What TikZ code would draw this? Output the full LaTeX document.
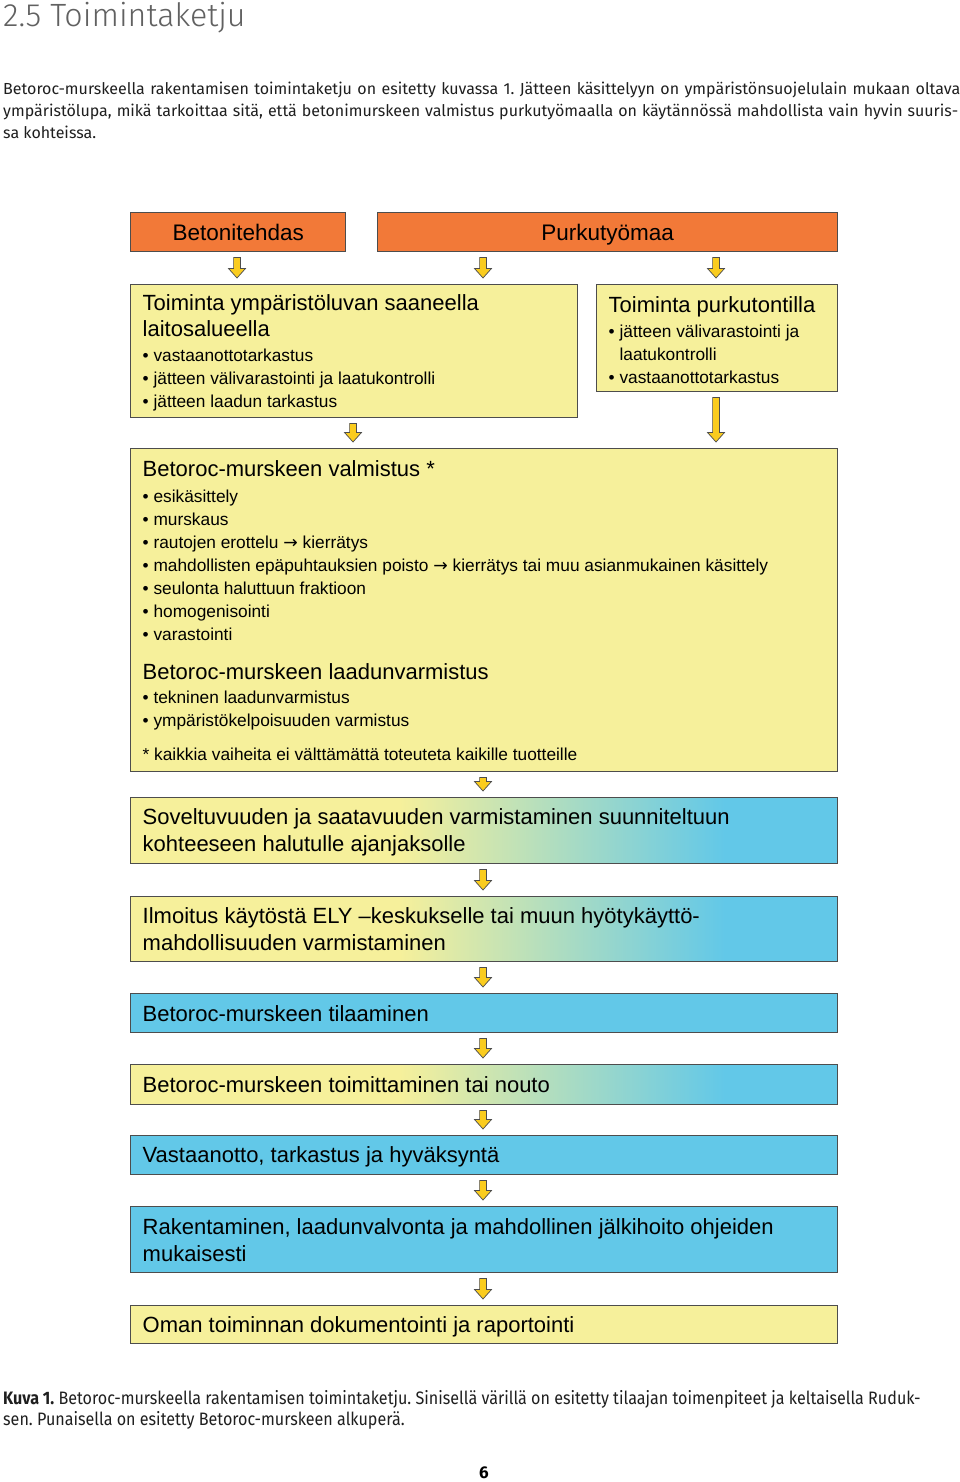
\documentclass[tikz,border=0pt]{standalone}
\usepackage{fontspec}
\usepackage{graphicx}
\setmainfont{Liberation Sans}
\newfontfamily\leipafont{Fira Sans}
\newfontfamily\otsikkofont{Fira Sans Light}
\newfontfamily\nuolifont{DejaVu Sans}
\usetikzlibrary{calc}
\frenchspacing

\definecolor{oranssi}{RGB}{242,121,56}
\definecolor{keltainen}{RGB}{246,240,155}
\definecolor{sininen}{RGB}{98,200,232}
\definecolor{nuoli}{RGB}{250,204,30}
\definecolor{reuna}{RGB}{77,77,77}
\pgfdeclarehorizontalshading{liuku}{100bp}{color(0bp)=(keltainen); color(44bp)=(keltainen); color(67bp)=(sininen); color(100bp)=(sininen)}

\tikzset{
    laatikko/.style={draw=reuna, line width=1.4pt, anchor=north west, inner xsep=12pt, inner ysep=0pt,
        minimum width=707pt, text width=683pt, align=flush left, font=\fontsize{22}{27}\selectfont},
    otsake/.style={laatikko, fill=oranssi, minimum height=39pt, align=center,
        font=\fontsize{22.5}{27}\selectfont, text height=20pt, text depth=3pt},
    luettelo/.style={laatikko, fill=keltainen, font=\fontsize{17.3}{23}\selectfont},
    rivi/.style={anchor=base west, inner sep=0pt, text=black!88},
}
\newcommand\kapea[1]{\scalebox{0.895}[1]{#1}}
\newcommand\nuolipala[3]{%
    \draw[fill=nuoli, draw=reuna, line width=0.7pt]
        let \p1=(#2.south), \p2=(#3.north), \p3=(#1,0) in
        (\x3-3.4pt,\y1-5pt) -- (\x3+3.4pt,\y1-5pt) -- (\x3+3.4pt,\y2+15.5pt) -- (\x3+8.5pt,\y2+15.5pt)
        -- (\x3,\y2+6pt) -- (\x3-8.5pt,\y2+15.5pt) -- (\x3-3.4pt,\y2+15.5pt) -- cycle;}

\begin{document}
\begin{tikzpicture}[x=1pt, y=-1pt]
    \useasboundingbox[fill=white] (0,0) rectangle (960,1482);

    \node[rivi, text=black!62, font=\otsikkofont\fontsize{32.2}{32}\selectfont] (otsikko) at (3,27) {2.5 Toimintaketju};
    \node[rivi, font=\leipafont\fontsize{16}{22}\selectfont] (teksti1) at (3,95) {\makebox[957pt][s]{Betoroc-murskeella rakentamisen toimintaketju on esitetty kuvassa 1. Jätteen käsittelyyn on ympäristönsuojelulain mukaan oltava}};
    \node[rivi, font=\leipafont\fontsize{16}{22}\selectfont] (teksti2) at (3,117) {\makebox[955pt][s]{ympäristölupa, mikä tarkoittaa sitä, että betonimurskeen valmistus purkutyömaalla on käytännössä mahdollista vain hyvin suuris-}};
    \node[rivi, font=\leipafont\fontsize{16}{22}\selectfont] (teksti3) at (3,139) {sa kohteissa.};

    \node[otsake, minimum width=215pt, text width=191pt] (betoni) at (130,212) {Betonitehdas};
    \node[otsake, minimum width=460pt, text width=436pt] (purku) at (377,212) {Purkutyömaa};

    \node[luettelo, minimum width=447pt, text width=423pt, minimum height=133pt] (laitos) at (130,284)
        {\fontsize{22}{23}\selectfont\rule{0pt}{20pt}Toiminta ympäristöluvan saaneella\\[3pt] laitosalueella\\[2pt]
        \fontsize{17.3}{23}\selectfont • vastaanottotarkastus\\ • jätteen välivarastointi ja laatukontrolli\\ • jätteen laadun tarkastus};
    \node[luettelo, minimum width=241pt, text width=217pt, minimum height=107pt] (tontti) at (596,284)
        {\fontsize{22}{23}\selectfont\rule{0pt}{19pt}Toiminta purkutontilla\\[2pt]
        \fontsize{17.3}{23}\selectfont • jätteen välivarastointi ja\\ \hphantom{• }laatukontrolli\\ • vastaanottotarkastus};

    \node[luettelo, minimum height=323pt] (valmistus) at (130,448)
        {\fontsize{22}{23}\selectfont Betoroc-murskeen valmistus *\\[3pt]
        \fontsize{17.3}{23}\selectfont • esikäsittely\\ • murskaus\\ • rautojen erottelu {\nuolifont→} kierrätys\\
        • mahdollisten epäpuhtauksien poisto {\nuolifont→} kierrätys tai muu asianmukainen käsittely\\
        • seulonta haluttuun fraktioon\\ • homogenisointi\\ • varastointi\\[16pt]
        \fontsize{22}{23}\selectfont Betoroc-murskeen laadunvarmistus\\[1pt]
        \fontsize{17.3}{23}\selectfont • tekninen laadunvarmistus\\ • ympäristökelpoisuuden varmistus\\[11pt]
        * kaikkia vaiheita ei välttämättä toteuteta kaikille tuotteille};

    \node[laatikko, shading=liuku, minimum height=66pt] (soveltuvuus) at (130,797) {\rule{0pt}{20pt}Soveltuvuuden ja saatavuuden varmistaminen suunniteltuun\\ kohteeseen halutulle ajanjaksolle};
    \node[laatikko, shading=liuku, minimum height=65pt] (ilmoitus) at (130,896) {Ilmoitus käytöstä ELY –keskukselle tai muun hyötykäyttö-\\ mahdollisuuden varmistaminen};
    \node[laatikko, fill=sininen, minimum height=39pt] (tilaus) at (130,993) {Betoroc-murskeen tilaaminen};
    \node[laatikko, shading=liuku, minimum height=40pt] (toimitus) at (130,1064) {Betoroc-murskeen toimittaminen tai nouto};
    \node[laatikko, fill=sininen, minimum height=39pt] (vastaanotto) at (130,1135) {\rule{0pt}{19pt}Vastaanotto, tarkastus ja hyväksyntä};
    \node[laatikko, fill=sininen, minimum height=66pt] (rakentaminen) at (130,1206) {Rakentaminen, laadunvalvonta ja mahdollinen jälkihoito ohjeiden\\ mukaisesti};
    \node[laatikko, fill=keltainen, minimum height=38pt] (raportointi) at (130,1305) {\rule{0pt}{21pt}Oman toiminnan dokumentointi ja raportointi};

    \nuolipala{237}{betoni}{laitos}
    \nuolipala{483}{purku}{laitos}
    \nuolipala{716}{purku}{tontti}
    \nuolipala{353}{laitos}{valmistus}
    \nuolipala{716}{tontti}{valmistus}
    \nuolipala{483}{valmistus}{soveltuvuus}
    \nuolipala{483}{soveltuvuus}{ilmoitus}
    \nuolipala{483}{ilmoitus}{tilaus}
    \nuolipala{483}{tilaus}{toimitus}
    \nuolipala{483}{toimitus}{vastaanotto}
    \nuolipala{483}{vastaanotto}{rakentaminen}
    \nuolipala{483}{rakentaminen}{raportointi}

    \node[rivi, font=\leipafont\fontsize{18}{21}\selectfont] (kuvateksti1) at (3,1404) {\kapea{\textbf{Kuva 1.} Betoroc-murskeella rakentamisen toimintaketju. Sinisellä värillä on esitetty tilaajan toimenpiteet ja keltaisella Ruduk-}};
    \node[rivi, font=\leipafont\fontsize{18}{21}\selectfont] (kuvateksti2) at (3,1425) {\kapea{sen. Punaisella on esitetty Betoroc-murskeen alkuperä.}};
    \node[anchor=base, inner sep=0pt, font=\leipafont\bfseries\fontsize{17}{17}\selectfont] (sivu) at (484,1478) {6};
\end{tikzpicture}
\end{document}
